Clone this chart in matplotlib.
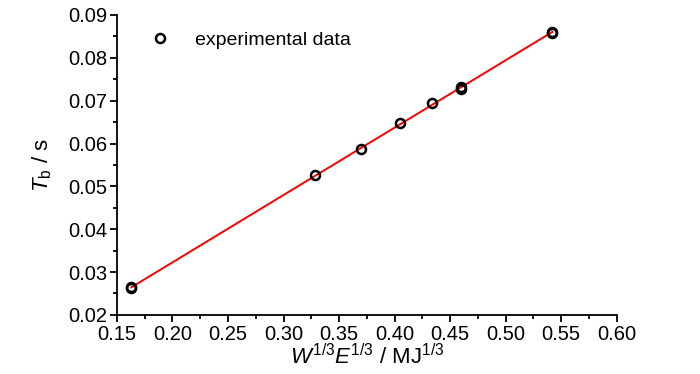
import numpy as np
import matplotlib
matplotlib.use("Agg")
import matplotlib.pyplot as plt
from matplotlib.ticker import MultipleLocator, FormatStrFormatter

plt.rcParams['font.family'] = ['Liberation Sans', 'DejaVu Sans']
plt.rcParams['mathtext.fontset'] = 'custom'
plt.rcParams['mathtext.rm'] = 'Liberation Sans'
plt.rcParams['mathtext.it'] = 'Liberation Sans:italic'

x_data = [0.163, 0.163, 0.328, 0.370, 0.405, 0.434, 0.460, 0.460, 0.542, 0.542]
y_data = [0.0265, 0.0262, 0.0527, 0.0587, 0.0648, 0.0694, 0.0733, 0.0727, 0.0861, 0.0858]

fig = plt.figure(figsize=(7.0, 3.74), dpi=100)
ax = fig.add_axes([0.167, 0.158, 0.714, 0.802])

x = np.array(x_data)
y = np.array(y_data)
b, a = np.polyfit(x, y, 1)
xf = np.array([x.min(), x.max()])
ax.plot(xf, a + b * xf, color='red', lw=1.4, zorder=2)
ax.plot(x, y, 'o', mfc='none', mec='black', mew=1.8, ms=6.5, zorder=3, label='experimental data')

ax.set_xlim(0.15, 0.60)
ax.set_ylim(0.02, 0.09)
ax.xaxis.set_major_locator(MultipleLocator(0.05))
ax.xaxis.set_minor_locator(MultipleLocator(0.025))
ax.yaxis.set_major_locator(MultipleLocator(0.01))
ax.yaxis.set_minor_locator(MultipleLocator(0.005))
ax.xaxis.set_major_formatter(FormatStrFormatter('%.2f'))
ax.yaxis.set_major_formatter(FormatStrFormatter('%.2f'))

for s in ['top', 'right']:
    ax.spines[s].set_visible(False)
for s in ['left', 'bottom']:
    ax.spines[s].set_linewidth(1.3)
ax.tick_params(which='major', direction='out', length=5, width=1.3, labelsize=14.5, pad=2)
ax.tick_params(which='minor', direction='out', length=3, width=1.3)

ax.set_xlabel(r'$W^{1/3}E^{1/3}$ / MJ$^{1/3}$', fontsize=16, labelpad=0)
ax.set_ylabel(r'$T_\mathrm{b}$ / s', fontsize=16, labelpad=10)

ax.legend(loc='upper left', frameon=False, fontsize=14, handletextpad=0.8,
          bbox_to_anchor=(0.012, 1.005), borderaxespad=0.5)

fig.savefig('out.png', dpi=100)
